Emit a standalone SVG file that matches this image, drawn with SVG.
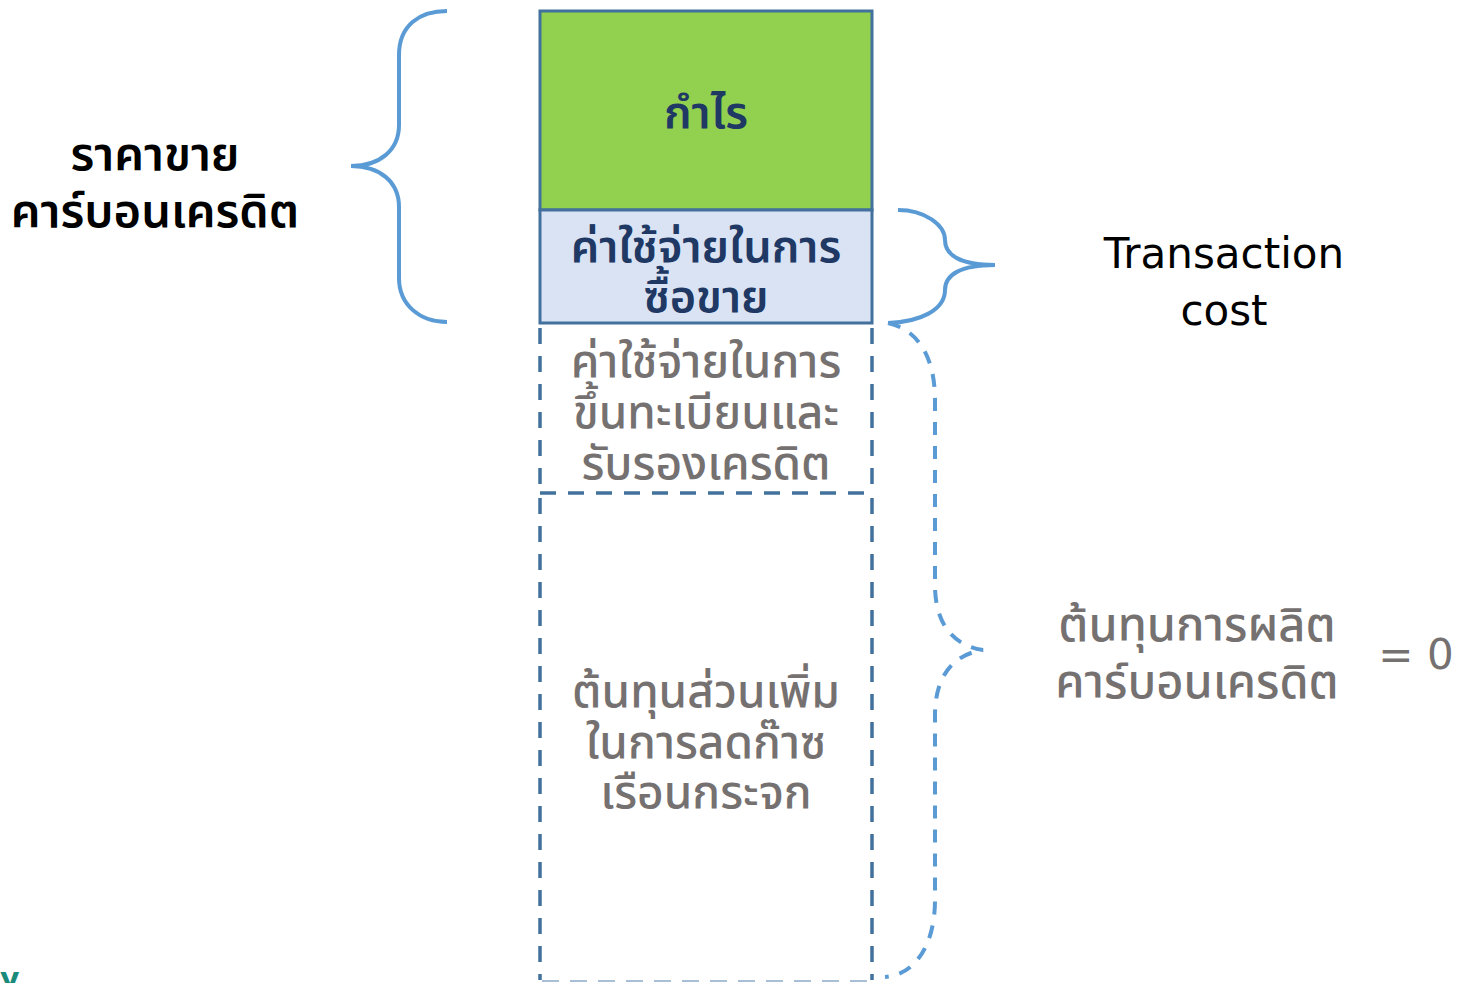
<svg xmlns="http://www.w3.org/2000/svg" width="1457" height="983" viewBox="0 0 1457 983">
<style>
.th{font-family:"DejaVu Sans","Noto Sans Thai","Noto Sans",sans-serif;text-anchor:middle;font-weight:500}
.navy{fill:#203864;font-size:45px;font-weight:600}
.gray{fill:#767171;font-size:46px}
.blk{fill:#000;font-size:47px;font-weight:600}
.rgray{fill:#767171;font-size:47px}
.brace{fill:none;stroke:#5b9bd5;stroke-width:4}
.dash{fill:none;stroke:#41719c;stroke-width:3.5;stroke-dasharray:16 12}
</style>
<rect width="1457" height="983" fill="#fff"/>
<g id="profit">
<rect x="540" y="11" width="332" height="199" fill="#92d050" stroke="#41719c" stroke-width="3"/>
<text class="th navy" x="706" y="128">กำไร</text>
</g>
<g id="transaction-box">
<rect x="540" y="210" width="332" height="113" fill="#dae3f3" stroke="#41719c" stroke-width="3"/>
<text class="th navy" x="706" y="262">ค่าใช้จ่ายในการ</text>
<text class="th navy" x="706" y="312">ซื้อขาย</text>
</g>
<g id="registration-box">
<path class="dash" d="M540,328 V490 M872,328 V490"/>
<path class="dash" stroke-dasharray="14 7" d="M540,493 H872"/>
<text class="th gray" x="706" y="377">ค่าใช้จ่ายในการ</text>
<text class="th gray" x="706" y="428">ขึ้นทะเบียนและ</text>
<text class="th gray" x="706" y="479">รับรองเครดิต</text>
</g>
<g id="abatement-box">
<path class="dash" d="M540,498 V980 M872,498 V980"/>
<path d="M542,981 H870" fill="none" stroke="#a9bfd6" stroke-width="2" stroke-dasharray="17 11"/>
<text class="th gray" x="706" y="707">ต้นทุนส่วนเพิ่ม</text>
<text class="th gray" x="706" y="758">ในการลดก๊าซ</text>
<text class="th gray" x="706" y="808">เรือนกระจก</text>
</g>
<g id="price-label">
<text class="th blk" x="155" y="170">ราคาขาย</text>
<text class="th blk" x="155" y="227">คาร์บอนเครดิต</text>
</g>
<g id="transaction-label">
<text x="1224" y="268" font-family="DejaVu Sans,sans-serif" text-anchor="middle" font-size="42" fill="#000">Transaction</text>
<text x="1224" y="325" font-family="DejaVu Sans,sans-serif" text-anchor="middle" font-size="42" fill="#000">cost</text>
</g>
<g id="cost-label">
<text class="th rgray" x="1197" y="641">ต้นทุนการผลิต</text>
<text class="th rgray" x="1197" y="698">คาร์บอนเครดิต</text>
<text x="1416" y="669" font-family="DejaVu Sans,sans-serif" text-anchor="middle" font-size="42" fill="#767171">= 0</text>
</g>
<g id="logo-fragment">
<text x="0" y="989" font-family="DejaVu Sans,sans-serif" font-weight="bold" font-size="30" fill="#1a8a7a">y</text>
</g>
<g id="connectors">
<path class="brace" d="M447,11 C420,11 399,25 399,55 V125 C399,150 380,166 351,166 C380,166 399,182 399,207 V278 C399,305 420,322 447,322"/>
<path class="brace" d="M898,210 C925,210 945,225 945,240 C945,255 960,265 995,265 C960,265 945,275 945,290 C945,310 920,322 888,323"/>
<path class="brace" stroke-width="3.5" stroke-dasharray="13 11" d="M888,323 C920,330 935,360 935,400 V585 C935,620 950,645 983,650 C950,655 935,680 935,715 V900 C935,945 915,975 885,977"/>
</g>
</svg>
